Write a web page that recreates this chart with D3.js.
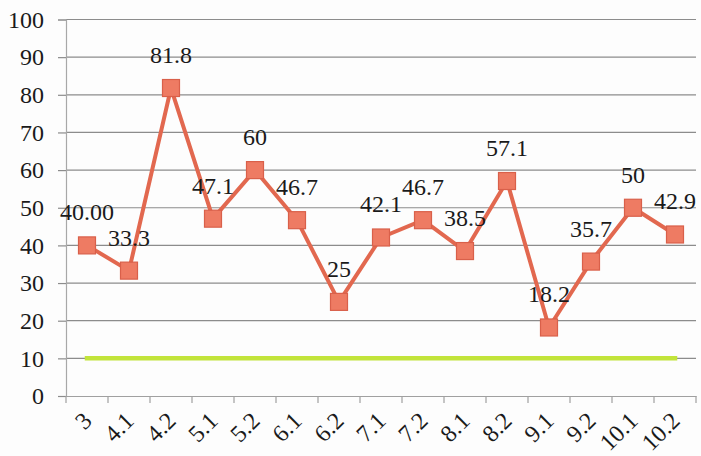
<!DOCTYPE html>
<html><head><meta charset="utf-8">
<script src="https://cdn.jsdelivr.net/npm/d3@7"></script>
</head>
<body style="margin:0;background:#fdfdfd">
<svg id="c" width="701" height="456" style="display:block"></svg>
<script>
const categories = ["3","4.1","4.2","5.1","5.2","6.1","6.2","7.1","7.2","8.1","8.2","9.1","9.2","10.1","10.2"];
const values = [40, 33.3, 81.8, 47.1, 60, 46.7, 25, 42.1, 46.7, 38.5, 57.1, 18.2, 35.7, 50, 42.9];
const valueLabels = ["40.00","33.3","81.8","47.1","60","46.7","25","42.1","46.7","38.5","57.1","18.2","35.7","50","42.9"];
const baseline = [10,10,10,10,10,10,10,10,10,10,10,10,10,10,10];
const yTicks = [0,10,20,30,40,50,60,70,80,90,100];

const svg = d3.select("#c");
const pLeft = 66, pRight = 696, pBottom = 396, pTop = 19.5;
const x = d3.scaleBand().domain(categories).range([pLeft, pRight]);
const y = d3.scaleLinear().domain([0,100]).range([pBottom, pTop]);
const cx = d => x(d) + x.bandwidth()/2;

function serif(sel) {
  sel.attr("font-family", "Liberation Serif")
     .attr("font-size", 24)
     .style("font-family", "'Liberation Serif'")
     .style("font-size", "24px")
     .attr("fill", "#1a1a1a");
}

// gridlines
svg.append("g").selectAll("line").data(yTicks.filter(t=>t>0)).join("line")
  .attr("x1", pLeft).attr("x2", pRight)
  .attr("y1", d=>y(d)).attr("y2", d=>y(d))
  .attr("stroke", "#8c8c8c").attr("stroke-width", 1.2);

// y axis
const ya = svg.append("g").attr("transform", `translate(${pLeft},0)`)
  .call(d3.axisLeft(y).tickValues(yTicks).tickSize(8).tickPadding(14));
ya.attr("font-family", "Liberation Serif").attr("font-size", 24);
ya.select(".domain").attr("stroke", "#a8a8a8").attr("stroke-width", 1.2);
ya.selectAll(".tick line").attr("stroke", "#8c8c8c").attr("stroke-width", 1.2);
ya.selectAll("text").call(serif);

// x axis
const xa = svg.append("g").attr("transform", `translate(0,${pBottom})`)
  .call(d3.axisBottom(x).tickSize(0).tickSizeOuter(0));
xa.attr("font-family", "Liberation Serif").attr("font-size", 24);
xa.select(".domain").attr("stroke", "#a0a0a0").attr("stroke-width", 1.2);
xa.selectAll(".tick line").remove();
svg.append("g").selectAll("line").data(d3.range(categories.length + 1)).join("line")
  .attr("x1", i => pLeft + i*x.step()).attr("x2", i => pLeft + i*x.step())
  .attr("y1", pBottom).attr("y2", pBottom + 7).attr("stroke", "#a0a0a0").attr("stroke-width", 1.2);
xa.selectAll(".tick text").call(serif)
  .attr("text-anchor", "end")
  .attr("transform", "translate(-4,16) rotate(-45)")
  .attr("dy", "0.6em").attr("y", 0).attr("x", 0);

// green baseline
svg.append("path").datum(baseline)
  .attr("d", d3.line().x((d,i)=>cx(categories[i])).y(d=>y(d)))
  .attr("fill", "none").attr("stroke", "#c2e43a").attr("stroke-width", 4.5)
  .attr("stroke-linecap", "square");

// red line
svg.append("path").datum(values)
  .attr("d", d3.line().x((d,i)=>cx(categories[i])).y(d=>y(d)))
  .attr("fill", "none").attr("stroke", "#e2684f").attr("stroke-width", 4)
  .attr("stroke-linejoin", "round");

// markers
const s = 17;
svg.append("g").selectAll("rect").data(values).join("rect")
  .attr("x", (d,i)=>cx(categories[i]) - s/2).attr("y", d=>y(d) - s/2)
  .attr("width", s).attr("height", s)
  .attr("fill", "#ee7b63").attr("stroke", "#d9604a").attr("stroke-width", 1.2);

// labels
svg.append("g").selectAll("text").data(values).join("text")
  .attr("x", (d,i)=>cx(categories[i]))
  .attr("y", d=>y(d) - 25)
  .attr("text-anchor", "middle")
  .call(serif)
  .text((d,i)=>valueLabels[i]);
</script>
</body></html>
